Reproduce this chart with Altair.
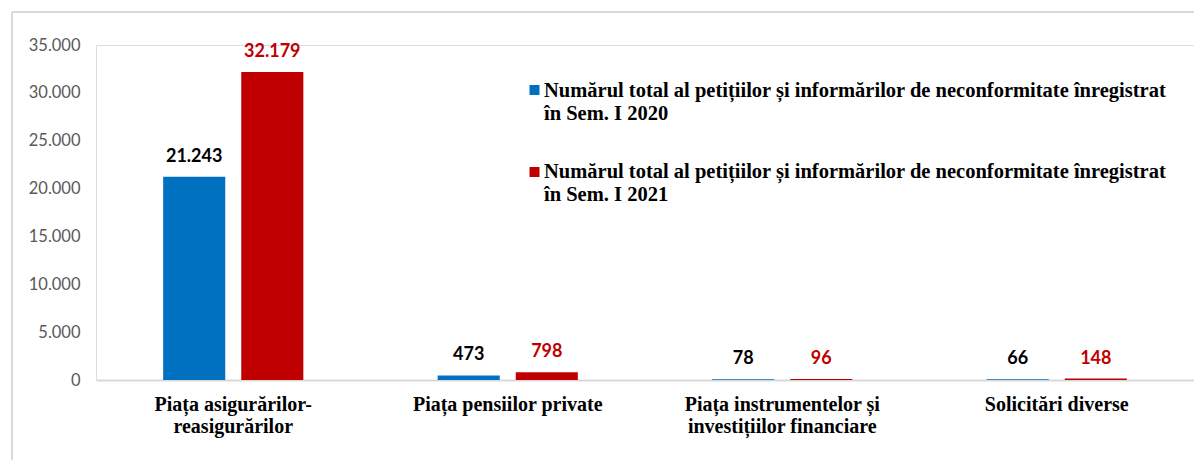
import json
import altair as alt
import pandas as pd

# ---------------- data ----------------
CATEGORIES = [
    "Piața asigurărilor-reasigurărilor",
    "Piața pensiilor private",
    "Piața instrumentelor și investițiilor financiare",
    "Solicitări diverse",
]
CATEGORY_LINES = [
    ["Piața asigurărilor-", "reasigurărilor"],
    ["Piața pensiilor  private"],
    ["Piața instrumentelor  și", "investițiilor  financiare"],
    ["Solicitări diverse"],
]
SERIES = ["Sem. I 2020", "Sem. I 2021"]
VALUES_2020 = [21243, 473, 78, 66]
VALUES_2021 = [32179, 798, 96, 148]
LEGEND_LINES = [
    ["Numărul  total al petițiilor  și informărilor  de neconformitate înregistrat",
     "în  Sem. I 2020"],
    ["Numărul  total al petițiilor  și informărilor  de neconformitate înregistrat",
     "în  Sem. I 2021"],
]
Y_TICKS = [0, 5000, 10000, 15000, 20000, 25000, 30000, 35000]

BAR_COLORS = ["#0070C0", "#C00000"]
LABEL_COLORS = ["#000000", "#C00000"]
FRAME = "#D9D9D9"
SERIF = "Liberation Serif"

rows = []
for c, v in zip(CATEGORIES, VALUES_2020):
    rows.append({"cat": c, "series": SERIES[0], "value": v})
for c, v in zip(CATEGORIES, VALUES_2021):
    rows.append({"cat": c, "series": SERIES[1], "value": v})
df = pd.DataFrame(rows)

expr = "datum.label"
for c, lines in reversed(list(zip(CATEGORIES, CATEGORY_LINES))):
    expr = f"datum.label == {json.dumps(c)} ? {json.dumps(lines)} : ({expr})"

W, H = 1098, 335

x_enc = alt.X(
    "cat:N",
    sort=CATEGORIES,
    scale=alt.Scale(paddingInner=0, paddingOuter=0),
    axis=alt.Axis(
        title=None, labelExpr=expr, labelAngle=0,
        labelFont=SERIF, labelFontWeight="bold", labelFontSize=20,
        labelColor="#000000", labelPadding=14, labelLineHeight=22,
        ticks=False, domainColor=FRAME, domainWidth=2, labelLimit=400,
    ),
)
xo_enc = alt.XOffset(
    "series:N", sort=SERIES,
    scale=alt.Scale(paddingInner=0.205, paddingOuter=0.86),
)
y_enc = alt.Y(
    "value:Q",
    scale=alt.Scale(domain=[0, 35000], nice=False),
    axis=alt.Axis(
        title=None, values=Y_TICKS,
        labelExpr="replace(format(datum.value, ','), ',', '.')",
        grid=False, domain=False, ticks=False,
        labelFont="Lato", labelFontSize=16.5, labelColor="#595959", labelPadding=16,
    ),
)

base = alt.Chart(df)

bars = base.mark_bar().encode(
    x=x_enc, xOffset=xo_enc, y=y_enc,
    color=alt.Color("series:N", scale=alt.Scale(domain=SERIES, range=BAR_COLORS), legend=None),
)

labels = base.transform_calculate(
    lbl="replace(format(datum.value, ','), ',', '.')"
).mark_text(
    font="Lato", fontWeight="bold", fontSize=18, baseline="alphabetic", dy=-15,
).encode(
    x=x_enc, xOffset=xo_enc, y=y_enc,
    text="lbl:N",
    color=alt.Color("series:N", scale=alt.Scale(domain=SERIES, range=LABEL_COLORS), legend=None),
)

one = alt.Chart(pd.DataFrame({"k": [0]}))

frame_top = one.mark_rule(color=FRAME, strokeWidth=2).encode(
    x=alt.value(-84), x2=alt.value(W + 50), y=alt.value(-33)
)
frame_left = one.mark_rule(color=FRAME, strokeWidth=2).encode(
    x=alt.value(-84), y=alt.value(-33), y2=alt.value(H + 200)
)

legend_layers = []
LEG_SYM_Y = [45, 127]
LEG_TXT_Y = [52, 133]
for i in range(2):
    legend_layers.append(
        one.mark_square(size=100, color=BAR_COLORS[i], opacity=1).encode(
            x=alt.value(438.5), y=alt.value(LEG_SYM_Y[i])
        )
    )
    legend_layers.append(
        one.mark_text(
            text=LEGEND_LINES[i], align="left", baseline="alphabetic",
            font=SERIF, fontWeight="bold", fontSize=20.5, lineHeight=23,
            color="#000000",
        ).encode(x=alt.value(448), y=alt.value(LEG_TXT_Y[i]))
    )

chart = alt.layer(
    frame_top, frame_left, bars, labels, *legend_layers
).resolve_scale(color="independent").properties(
    width=W, height=H,
    autosize=alt.AutoSizeParams(type="none"),
    padding={"left": 88, "top": 37, "right": 0, "bottom": 80},
).configure_view(stroke=None).configure(background="white")

chart.save("out.html", embed_options={"renderer": "svg", "actions": False})
